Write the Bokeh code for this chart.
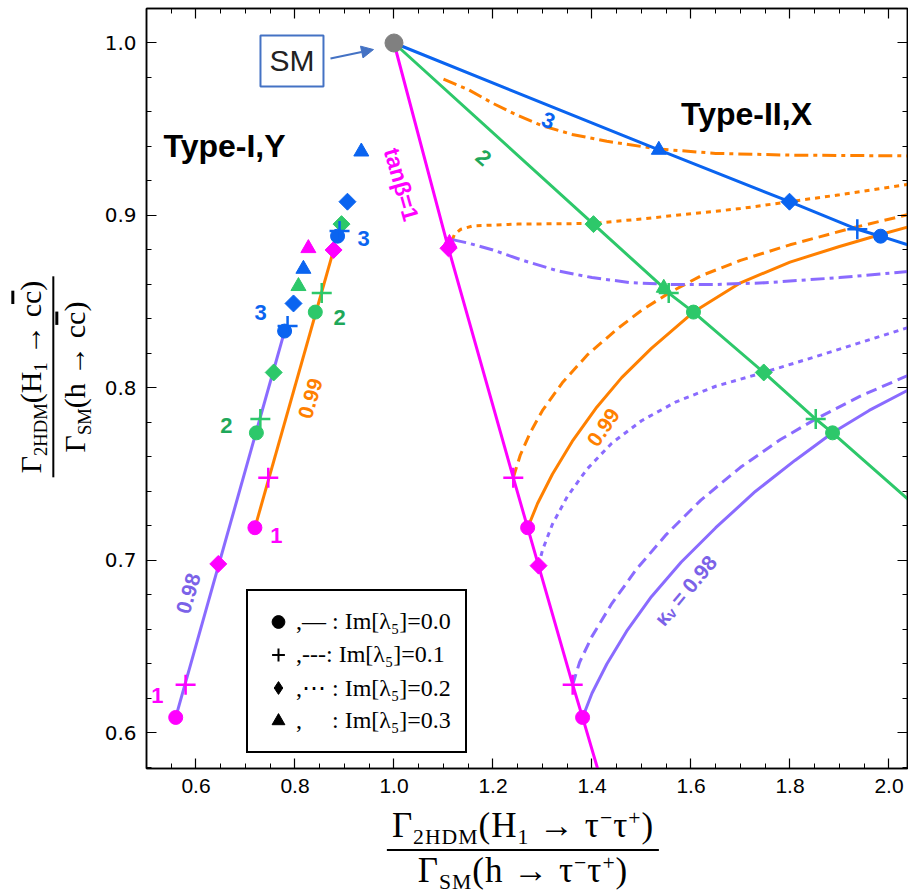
import numpy as np
from bokeh.plotting import figure
from bokeh.models import (Range1d, FixedTicker, LinearAxis, NumeralTickFormatter, Label,
                          Arrow, NormalHead, Legend, LegendItem, Div, CustomJSTickFormatter)
from bokeh.layouts import row, column
from bokeh.embed import file_html
from bokeh.resources import INLINE

MAGENTA = "#FF00FF"
GREEN = "#2DC86A"
BLUE = "#0A64F0"
ORANGE = "#FF8000"
PURPLE = "#8A6BFF"

# ---------------- data ----------------
sm_x = [1.0]
sm_y = [1.0]

# tanβ lines
tb1_x = [1.0, 1.110, 1.241, 1.270, 1.292, 1.361, 1.381, 1.425]
tb1_y = [1.0, 0.881, 0.748, 0.719, 0.697, 0.628, 0.609, 0.566]
tb2_x = [1.0, 1.403, 1.545, 1.555, 1.605, 1.747, 1.852, 1.886, 2.06]
tb2_y = [1.0, 0.895, 0.858, 0.855, 0.844, 0.809, 0.782, 0.774, 0.730]
tb3_x = [1.0, 1.535, 1.799, 1.936, 1.983, 2.06]
tb3_y = [1.0, 0.938, 0.908, 0.892, 0.888, 0.881]

# Type-I,Y kappa lines
typeI_k98_x = [0.559, 0.779]
typeI_k98_y = [0.609, 0.833]
typeI_k99_x = [0.719, 0.878]
typeI_k99_y = [0.719, 0.880]

# Type-II,X kappa_V = 0.99 (orange)
k99_im0_x = [1.270, 1.290, 1.320, 1.360, 1.410, 1.460, 1.520, 1.605, 1.700, 1.800, 1.900, 1.983, 2.060]
k99_im0_y = [0.719, 0.733, 0.750, 0.769, 0.789, 0.806, 0.823, 0.844, 0.861, 0.873, 0.882, 0.889, 0.895]
k99_im1_x = [1.241, 1.255, 1.275, 1.300, 1.340, 1.390, 1.450, 1.500, 1.555, 1.620, 1.700, 1.800, 1.929, 2.060]
k99_im1_y = [0.748, 0.761, 0.774, 0.787, 0.803, 0.819, 0.834, 0.845, 0.855, 0.865, 0.874, 0.883, 0.893, 0.902]
k99_im2_x = [1.118, 1.122, 1.135, 1.160, 1.250, 1.403, 1.500, 1.600, 1.700, 1.799, 1.900, 2.060]
k99_im2_y = [0.886, 0.889, 0.892, 0.894, 0.895, 0.8954, 0.898, 0.901, 0.904, 0.908, 0.912, 0.919]
k99_im3_x = [1.100, 1.150, 1.200, 1.250, 1.300, 1.360, 1.430, 1.535, 1.650, 1.800, 2.060]
k99_im3_y = [0.979, 0.973, 0.965, 0.958, 0.952, 0.947, 0.943, 0.9385, 0.936, 0.935, 0.9345]

# Type-II,X kappa_V = 0.98 (purple)
k98_im0_x = [1.381, 1.400, 1.430, 1.470, 1.520, 1.580, 1.650, 1.730, 1.810, 1.886, 1.960, 2.060]
k98_im0_y = [0.609, 0.623, 0.640, 0.659, 0.679, 0.699, 0.719, 0.740, 0.758, 0.774, 0.787, 0.802]
k98_im1_x = [1.361, 1.375, 1.400, 1.440, 1.490, 1.550, 1.620, 1.700, 1.780, 1.852, 1.940, 2.060]
k98_im1_y = [0.628, 0.641, 0.656, 0.675, 0.695, 0.715, 0.735, 0.754, 0.770, 0.782, 0.795, 0.810]
k98_im2_x = [1.292, 1.300, 1.320, 1.350, 1.390, 1.440, 1.500, 1.570, 1.650, 1.747, 1.850, 1.950, 2.060]
k98_im2_y = [0.697, 0.706, 0.721, 0.737, 0.753, 0.768, 0.781, 0.792, 0.801, 0.809, 0.818, 0.827, 0.837]
k98_im3_x = [1.118, 1.150, 1.200, 1.260, 1.330, 1.400, 1.480, 1.560, 1.650, 1.750, 1.900, 2.060]
k98_im3_y = [0.886, 0.884, 0.880, 0.874, 0.868, 0.864, 0.861, 0.860, 0.860, 0.861, 0.864, 0.868]

# markers: tanβ = 1 (magenta)
m1_circ_x = [0.559, 0.719, 1.270, 1.381]
m1_circ_y = [0.609, 0.719, 0.719, 0.609]
m1_plus_x = [0.579, 0.746, 1.241, 1.361]
m1_plus_y = [0.628, 0.748, 0.748, 0.628]
m1_diam_x = [0.645, 0.878, 1.292, 1.110]
m1_diam_y = [0.698, 0.880, 0.697, 0.881]
m1_tri_x = [0.827, 1.112]
m1_tri_y = [0.881, 0.884]
# tanβ = 2 (green)
m2_circ_x = [0.722, 0.841, 1.605, 1.886]
m2_circ_y = [0.774, 0.844, 0.844, 0.774]
m2_plus_x = [0.730, 0.854, 1.555, 1.852]
m2_plus_y = [0.782, 0.855, 0.855, 0.782]
m2_diam_x = [0.757, 0.894, 1.403, 1.747]
m2_diam_y = [0.809, 0.895, 0.895, 0.809]
m2_tri_x = [0.807, 1.545]
m2_tri_y = [0.859, 0.858]
# tanβ = 3 (blue)
m3_circ_x = [0.779, 0.886, 1.983]
m3_circ_y = [0.833, 0.888, 0.888]
m3_plus_x = [0.785, 0.890, 1.936]
m3_plus_y = [0.836, 0.891, 0.892]
m3_diam_x = [0.797, 0.906, 1.799]
m3_diam_y = [0.849, 0.908, 0.908]
m3_tri_x = [0.817, 0.934, 1.535]
m3_tri_y = [0.869, 0.937, 0.938]

x_major = [0.6, 0.8, 1.0, 1.2, 1.4, 1.6, 1.8, 2.0]
x_minor = [round(0.5 + 0.05 * i, 2) for i in range(32)]
y_major = [0.6, 0.7, 0.8, 0.9, 1.0]
y_minor = [round(0.58 + 0.02 * i, 2) for i in range(23)]

legend_labels = [",— : Im[λ₅]=0.0", ",---: Im[λ₅]=0.1", ",⋯ : Im[λ₅]=0.2", ",     : Im[λ₅]=0.3"]

# ---------------- figure ----------------
p = figure(width=813, height=808, x_range=Range1d(0.5, 2.0374), y_range=Range1d(0.5794, 1.02),
           output_backend="svg", toolbar_location=None,
           min_border_left=51, min_border_right=1, min_border_top=8, min_border_bottom=40)
p.xgrid.visible = False
p.ygrid.visible = False
p.outline_line_color = "black"
p.outline_line_width = 1.5
p.background_fill_color = "white"
p.border_fill_color = "white"


def style_axis(ax, ticks, minor, show_labels, font, size, standoff):
    ax.ticker = FixedTicker(ticks=ticks, minor_ticks=minor)
    ax.major_tick_in = 10
    ax.major_tick_out = 0
    ax.minor_tick_in = 5
    ax.minor_tick_out = 0
    ax.axis_line_color = "black"
    ax.axis_line_width = 1.5
    ax.major_tick_line_color = "black"
    ax.major_tick_line_width = 1.2
    ax.minor_tick_line_color = "black"
    ax.minor_tick_line_width = 1.0
    if show_labels:
        ax.formatter = NumeralTickFormatter(format="0.0")
        ax.major_label_text_font = font
        ax.major_label_text_font_size = size
        ax.major_label_text_color = "black"
        ax.major_label_standoff = standoff
    else:
        ax.formatter = CustomJSTickFormatter(code="return ''")
        ax.major_label_text_font_size = "1px"
        ax.major_label_standoff = 0


style_axis(p.below[0], x_major, x_minor, True, "Liberation Sans", "21px", 10)
style_axis(p.left[0], y_major, y_minor, True, "DejaVu Sans", "20px", 10)
top_ax = LinearAxis()
right_ax = LinearAxis()
style_axis(top_ax, x_major, x_minor, False, "Liberation Sans", "1px", 0)
style_axis(right_ax, y_major, y_minor, False, "Liberation Sans", "1px", 0)
p.add_layout(top_ax, "above")
p.add_layout(right_ax, "right")

# ---------------- curves ----------------
LW = 3
p.line(k99_im3_x, k99_im3_y, color=ORANGE, line_width=LW, line_dash="14 5 4 5")
p.line(k99_im2_x, k99_im2_y, color=ORANGE, line_width=LW, line_dash="5 5")
p.line(k99_im1_x, k99_im1_y, color=ORANGE, line_width=LW, line_dash="11 6")
p.line(k99_im0_x, k99_im0_y, color=ORANGE, line_width=LW)
p.line(k98_im3_x, k98_im3_y, color=PURPLE, line_width=LW, line_dash="14 5 4 5")
p.line(k98_im2_x, k98_im2_y, color=PURPLE, line_width=LW, line_dash="5 5")
p.line(k98_im1_x, k98_im1_y, color=PURPLE, line_width=LW, line_dash="11 6")
p.line(k98_im0_x, k98_im0_y, color=PURPLE, line_width=LW)
p.line(typeI_k98_x, typeI_k98_y, color=PURPLE, line_width=LW)
p.line(typeI_k99_x, typeI_k99_y, color=ORANGE, line_width=LW)
p.line(tb3_x, tb3_y, color=BLUE, line_width=LW)
p.line(tb2_x, tb2_y, color=GREEN, line_width=LW)
p.line(tb1_x, tb1_y, color=MAGENTA, line_width=LW)

# ---------------- markers ----------------
groups = [
    (MAGENTA, m1_circ_x, m1_circ_y, m1_plus_x, m1_plus_y, m1_diam_x, m1_diam_y, m1_tri_x, m1_tri_y),
    (GREEN, m2_circ_x, m2_circ_y, m2_plus_x, m2_plus_y, m2_diam_x, m2_diam_y, m2_tri_x, m2_tri_y),
    (BLUE, m3_circ_x, m3_circ_y, m3_plus_x, m3_plus_y, m3_diam_x, m3_diam_y, m3_tri_x, m3_tri_y),
]
for col, cx, cy, px_, py_, dx, dy, tx, ty in groups:
    p.scatter(cx, cy, marker="circle", size=14, color=col)
    p.scatter(dx, dy, marker="square", angle=np.pi / 4, size=12, color=col)
    p.scatter(tx, ty, marker="triangle", size=15, color=col)
    p.scatter(px_, py_, marker="cross", size=20, line_color=col, line_width=2.5)

p.scatter(sm_x, sm_y, marker="circle", size=18, color="#808080")

# ---------------- legend (black symbols; renderers hold no visible point) ----------------
nan = [float("nan")]
r_c = p.scatter(nan, nan, marker="circle", size=14, color="black")
r_p = p.scatter(nan, nan, marker="cross", size=14, line_color="black", line_width=2)
r_d = p.scatter(nan, nan, marker="diamond", size=14, color="black")
r_t = p.scatter(nan, nan, marker="triangle", size=14, color="black")
legend = Legend(items=[LegendItem(label=legend_labels[0], renderers=[r_c]),
                       LegendItem(label=legend_labels[1], renderers=[r_p]),
                       LegendItem(label=legend_labels[2], renderers=[r_d]),
                       LegendItem(label=legend_labels[3], renderers=[r_t])],
                location=(100, 15), orientation="vertical",
                label_text_font="Liberation Serif", label_text_font_size="24px",
                label_text_color="black", label_height=33, glyph_height=33, glyph_width=32,
                label_standoff=2, spacing=0, padding=14, margin=0,
                border_line_color="black", border_line_width=2, border_line_alpha=1.0,
                background_fill_color="white", background_fill_alpha=1.0)
p.add_layout(legend, "center")

# ---------------- annotations ----------------


def lab(x, y, text, color, size, angle_deg=0.0, bold=True, font="Liberation Sans"):
    p.add_layout(Label(x=x, y=y, text=text, text_color=color, text_font=font,
                       text_font_size=f"{size}px", text_font_style="bold" if bold else "normal",
                       angle=np.radians(angle_deg), text_align="center", text_baseline="middle"))


lab(0.6576, 0.9405, "Type-I,Y", "black", 32)
lab(1.7121, 0.9591, "Type-II,X", "black", 32)
lab(1.0152, 0.918, "tanβ=1", MAGENTA, 23, -74)
lab(1.3121, 0.9551, "3", BLUE, 22, -21)
lab(1.1808, 0.9336, "2", "#1FA85A", 22, -41)
lab(0.7303, 0.8438, "3", BLUE, 22)
lab(0.6616, 0.7783, "2", "#1FA85A", 22)
lab(0.5222, 0.6217, "1", MAGENTA, 22)
lab(0.7626, 0.7145, "1", MAGENTA, 22)
lab(0.9384, 0.8867, "3", BLUE, 22)
lab(0.8899, 0.8409, "2", "#1FA85A", 22)
lab(0.8313, 0.7939, "0.99", ORANGE, 21, 74)
lab(0.5848, 0.6809, "0.98", "#7B62E8", 21, 74)
lab(1.4232, 0.7771, "0.99", ORANGE, 21, 56)
lab(1.5889, 0.6826, "κᵥ = 0.98", "#7B62E8", 21, 50)

p.add_layout(Label(x=0.7939, y=0.9896, text="SM", text_color="#222222", text_font="Liberation Sans",
                   text_font_size="30px", text_align="center", text_baseline="middle",
                   border_line_color="#4472C4", border_line_width=2, padding=9,
                   background_fill_color="white"))
p.add_layout(Arrow(end=NormalHead(size=12, fill_color="#4472C4", line_color="#4472C4"),
                   x_start=0.8717, y_start=0.991, x_end=0.9586, y_end=0.9962,
                   line_color="#4472C4", line_width=2))

# ---------------- axis labels (HTML fractions) ----------------
SUB = "font-size:0.62em;vertical-align:-0.3em;line-height:0;"
SUP = "font-size:0.62em;vertical-align:0.55em;line-height:0;"
FR = "font-family:Liberation Serif,serif;line-height:1;color:black;white-space:nowrap;text-align:center;"
cbar = '<span style="text-decoration:overline;">c</span>'

y_num = f'Γ<span style="{SUB}">2HDM</span>(H<span style="{SUB}">1</span> → c{cbar})'
y_den = f'Γ<span style="{SUB}">SM</span>(h → c{cbar})'
x_num = (f'Γ<span style="{SUB}">2HDM</span>(H<span style="{SUB}">1</span> → '
         f'τ<span style="{SUP}">−</span>τ<span style="{SUP}">+</span>)')
x_den = f'Γ<span style="{SUB}">SM</span>(h → τ<span style="{SUP}">−</span>τ<span style="{SUP}">+</span>)'

ydiv = Div(width=95, height=753, margin=0, text=(
    '<div style="width:95px;height:753px;display:flex;align-items:center;justify-content:center;">'
    f'<div style="flex:none;transform:rotate(-90deg) translateY(6px);font-size:30px;{FR}">'
    f'<div style="padding:0 4px 6px 4px;border-bottom:2px solid black;">{y_num}</div>'
    f'<div style="padding-top:6px;">{y_den}</div>'
    '</div></div>'))

xdiv = Div(width=908, height=85, margin=0, text=(
    '<div style="position:relative;width:908px;height:85px;">'
    f'<div style="position:absolute;left:523px;top:0px;transform:translateX(-50%);font-size:35px;letter-spacing:1px;{FR}">'
    f'<div style="padding:0px 5px 6px 5px;border-bottom:2px solid black;">{x_num}</div>'
    f'<div style="padding-top:2px;">{x_den}</div>'
    '</div></div>'))

layout = column(row(ydiv, p, spacing=0), xdiv, spacing=0)

with open("out.html", "w") as f:
    f.write(file_html(layout, INLINE))
